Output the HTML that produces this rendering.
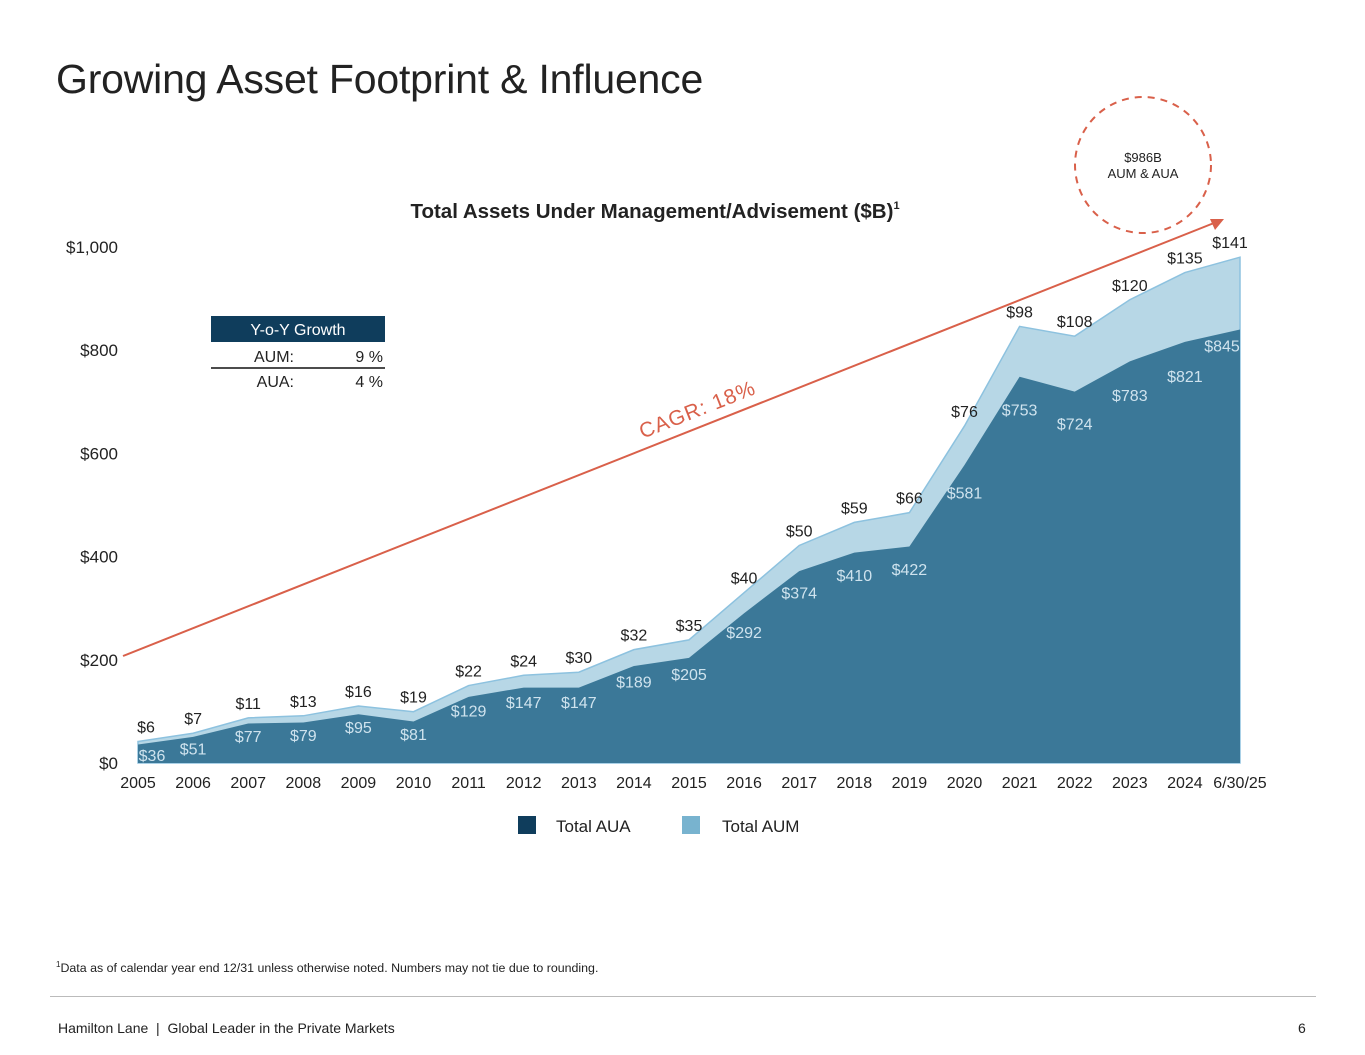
<!DOCTYPE html>
<html><head><meta charset="utf-8"><style>
body{margin:0;width:1365px;height:1055px;background:#fff;font-family:"Liberation Sans",sans-serif;position:relative;overflow:hidden;color:#111}
.abs{position:absolute}
</style></head><body>
<div class="abs" style="left:56px;top:56px;font-size:41px;color:#222;letter-spacing:-0.2px">Growing Asset Footprint &amp; Influence</div>
<svg class="abs" style="left:0;top:0" width="1365" height="1055" id="chart">
<text x="655" y="218" text-anchor="middle" font-size="20.5" font-weight="bold" fill="#222">Total Assets Under Management/Advisement ($B)<tspan font-size="11" dy="-9">1</tspan></text>
<g id="yaxis"></g><g id="areas"></g><g id="labels"></g><g id="xaxis"></g>
<line x1="123" y1="656" x2="1214" y2="223" stroke="#d9604a" stroke-width="2"/>
<polygon points="1224,219 1210,219 1215,230" fill="#d9604a"/>
<text x="700" y="416" transform="rotate(-21.6 700 416)" text-anchor="middle" font-size="21" fill="#d9604a" letter-spacing="1">CAGR: 18%</text>
<circle cx="1143" cy="165" r="68" fill="none" stroke="#d9604a" stroke-width="2" stroke-dasharray="7,6"/>
<text x="1143" y="162" text-anchor="middle" font-size="13" fill="#222">$986B</text>
<text x="1143" y="178" text-anchor="middle" font-size="13" fill="#222">AUM &amp; AUA</text>
<rect x="211" y="316" width="174" height="26" fill="#0f3d5c"/>
<text x="298" y="335" text-anchor="middle" font-size="16" fill="#fff">Y-o-Y Growth</text>
<text x="294" y="362" text-anchor="end" font-size="16" fill="#222">AUM:</text>
<text x="383" y="362" text-anchor="end" font-size="16" fill="#222">9 %</text>
<line x1="211" y1="368" x2="385" y2="368" stroke="#111" stroke-width="1.5"/>
<text x="294" y="387" text-anchor="end" font-size="16" fill="#222">AUA:</text>
<text x="383" y="387" text-anchor="end" font-size="16" fill="#222">4 %</text>
<rect x="518" y="816" width="18" height="18" fill="#0f3d5c"/>
<text x="556" y="832" font-size="17" fill="#222">Total AUA</text>
<rect x="682" y="816" width="18" height="18" fill="#78b3cf"/>
<text x="722" y="832" font-size="17" fill="#222">Total AUM</text>
</svg>
<div class="abs" style="left:56px;top:960px;font-size:12.4px;color:#222"><sup style="font-size:8px">1</sup>Data as of calendar year end 12/31 unless otherwise noted. Numbers may not tie due to rounding.</div>
<div class="abs" style="left:50px;top:996px;width:1266px;height:1px;background:#bbb"></div>
<div class="abs" style="left:58px;top:1020px;font-size:14px;color:#222">Hamilton Lane &nbsp;|&nbsp; Global Leader in the Private Markets</div>
<div class="abs" style="left:1298px;top:1020px;font-size:14px;color:#222">6</div>
<script>
const categories=["2005","2006","2007","2008","2009","2010","2011","2012","2013","2014","2015","2016","2017","2018","2019","2020","2021","2022","2023","2024","6/30/25"];
const auaValues=[36,51,77,79,95,81,129,147,147,189,205,292,374,410,422,581,753,724,783,821,845];
const aumValues=[6,7,11,13,16,19,22,24,30,32,35,40,50,59,66,76,98,108,120,135,141];
const yTicks=[0,200,400,600,800,1000];
const NS="http://www.w3.org/2000/svg";
const n=categories.length;
const x=i=>138+i*(1240-138)/(n-1);
const y=v=>763-v*0.513;
function mk(tag,attrs,parent,text){const e=document.createElementNS(NS,tag);for(const k in attrs)e.setAttribute(k,attrs[k]);if(text!==undefined)e.textContent=text;document.getElementById(parent).appendChild(e);return e;}
yTicks.forEach(t=>{const e=mk('text',{x:118,y:763-t*0.516+6,'text-anchor':'end','font-size':17,fill:'#222'},'yaxis','$'+t.toLocaleString('en-US'));

});
const tops=auaValues.map((v,i)=>v+aumValues[i]);
let pTot=categories.map((c,i)=>x(i)+','+y(tops[i])).join(' ')+' '+x(n-1)+','+y(0)+' '+x(0)+','+y(0);
const a1=mk('polygon',{points:pTot,fill:'#b7d7e6',stroke:'#8dc2df','stroke-width':1.5},'areas');


let pAua=categories.map((c,i)=>x(i)+','+y(auaValues[i])).join(' ')+' '+x(n-1)+','+y(0)+' '+x(0)+','+y(0);
const a2=mk('polygon',{points:pAua,fill:'#3b7898'},'areas');


categories.forEach((c,i)=>{
const dx=i==0?14:(i==n-1?-18:0);
const t=mk('text',{x:x(i)+(i==0?8:(i==n-1?-10:0)),y:y(tops[i])-9,'text-anchor':'middle','font-size':16,fill:'#222'},'labels','$'+aumValues[i]);


const off=i==n-1?16:Math.min(10+auaValues[i]*0.03,34);
const t2=mk('text',{x:x(i)+dx,y:Math.min(y(auaValues[i])+off+6,761),'text-anchor':'middle','font-size':16,fill:'#cfe3ee'},'labels','$'+auaValues[i]);


const t3=mk('text',{x:x(i),y:788,'text-anchor':'middle','font-size':16,fill:'#222'},'xaxis',c);


});
</script>
</body></html>
